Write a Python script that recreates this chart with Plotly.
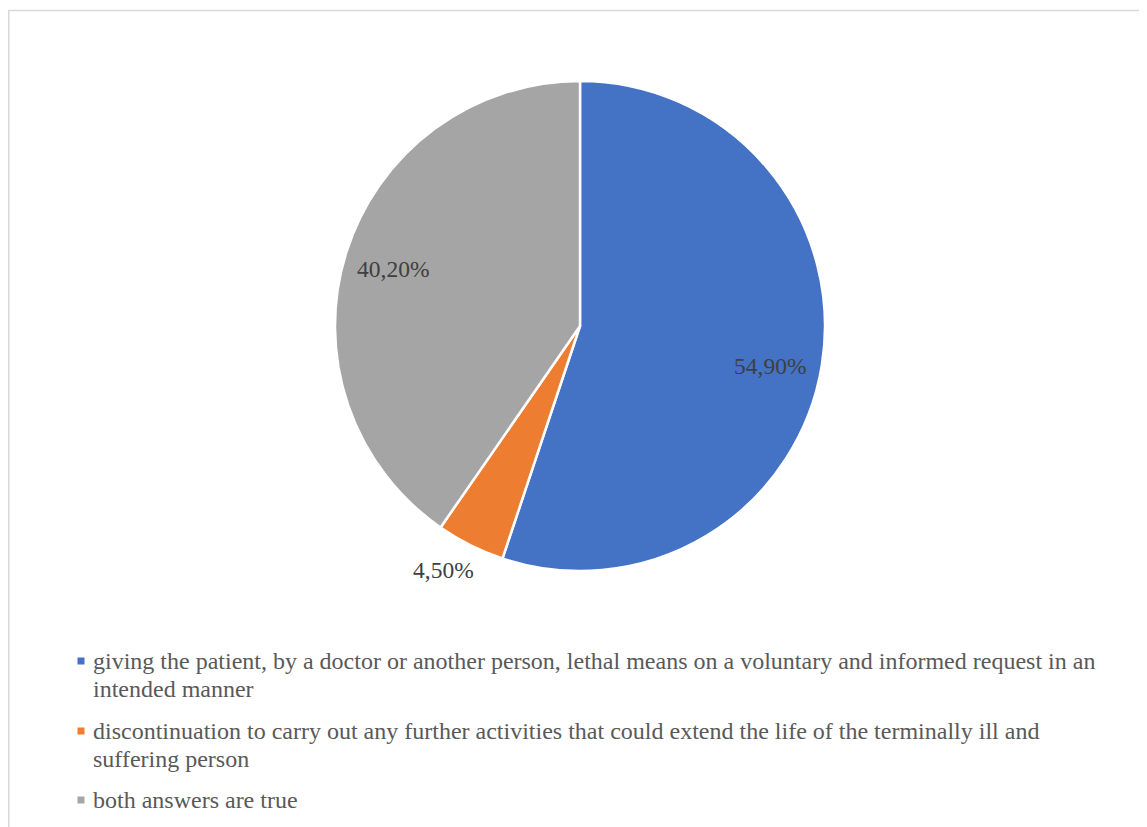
import math
import plotly.graph_objects as go

# ---- data ----
categories = [
    "giving the patient, by a doctor or another person, lethal means on a voluntary and informed request in an<br>intended manner",
    "discontinuation to carry out any further activities that could extend the life of the terminally ill and<br>suffering person",
    "both answers are true",
]
values = [54.9, 4.5, 40.2]
value_labels = ["54,90%", "4,50%", "40,20%"]
colors = ["#4472C4", "#ED7D31", "#A5A5A5"]

# page is offset by the 8px body margin
OFF = 8
W, H = 1147 - OFF, 827 - OFF
FONT = "Liberation Serif, Times New Roman, serif"


def px_x(p):
    return (p - OFF) / W


def px_y(p):
    return 1 - (p - OFF) / H


# pie geometry in page pixels
cx, cy, R = 580, 326, 245
dom_x = [px_x(cx - R), px_x(cx + R)]
dom_y = [px_y(cy + R), px_y(cy - R)]

fig = go.Figure(go.Pie(
    labels=categories,
    values=values,
    marker=dict(colors=colors, line=dict(color="white", width=2.5)),
    sort=False,
    direction="clockwise",
    rotation=0,
    textinfo="none",
    hoverinfo="label+percent",
    domain=dict(x=dom_x, y=dom_y),
    showlegend=False,
))

# data labels positioned near slice mid-angles
total = sum(values)
radial = [0.793, 1.143, 0.798]
angle_shift = [2.7, 2.7, -0.3]
start = 0.0
annotations = []
for v, lab, rf, da in zip(values, value_labels, radial, angle_shift):
    span = v / total * 360
    mid = math.radians(start + span / 2 + da)
    start += span
    ppx = cx + rf * R * math.sin(mid)
    ppy = cy - rf * R * math.cos(mid)
    annotations.append(dict(
        x=px_x(ppx), y=px_y(ppy), xref="paper", yref="paper",
        text=lab, showarrow=False, xanchor="center", yanchor="middle",
        font=dict(family=FONT, size=23.5, color="#404040"),
    ))

# custom legend (one annotation per wrapped line)
shapes = []
first_line_y = [661, 731, 800]
LINE_H = 28
for cat, col, fy in zip(categories, colors, first_line_y):
    for i, line in enumerate(cat.split("<br>")):
        annotations.append(dict(
            x=px_x(91), y=px_y(fy + i * LINE_H), xref="paper", yref="paper",
            text=line, showarrow=False, xanchor="left", yanchor="middle", align="left",
            font=dict(family=FONT, size=24, color="#595959"),
        ))
    shapes.append(dict(
        type="rect", xref="paper", yref="paper",
        x0=px_x(77.5), x1=px_x(84.5), y0=px_y(fy + 3.5), y1=px_y(fy - 3.5),
        fillcolor=col, line=dict(width=0),
    ))

# outer chart border
shapes.append(dict(
    type="rect", xref="paper", yref="paper",
    x0=px_x(8.8), x1=1.02, y0=-0.02, y1=px_y(10.5),
    line=dict(color="#D9D9D9", width=1.5), fillcolor="rgba(0,0,0,0)",
))

fig.update_layout(
    width=W, height=H,
    margin=dict(l=0, r=0, t=0, b=0),
    paper_bgcolor="white", plot_bgcolor="white",
    annotations=annotations, shapes=shapes,
)

fig.write_html("out.html")
